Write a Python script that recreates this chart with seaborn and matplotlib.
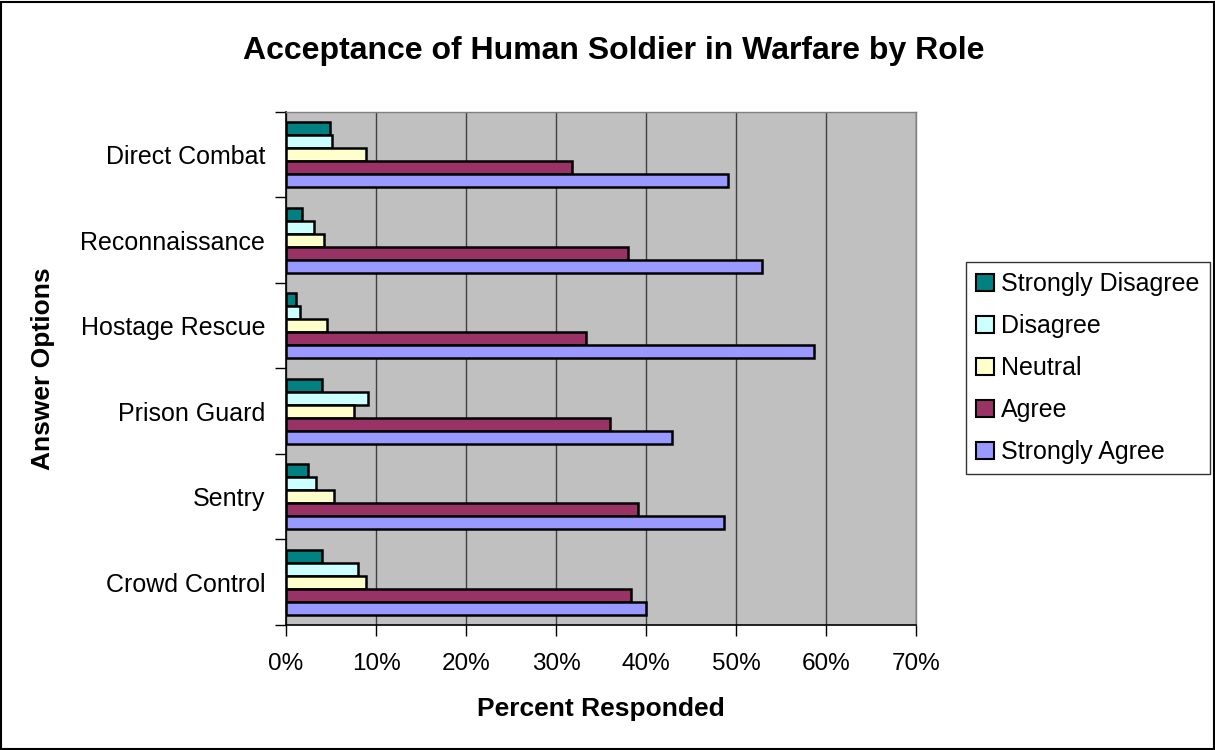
import matplotlib
matplotlib.use("Agg")
import matplotlib.pyplot as plt
from matplotlib.patches import Rectangle
from matplotlib.ticker import PercentFormatter, MultipleLocator, FixedLocator
import numpy as np
import pandas as pd
import seaborn as sns

roles = ["Direct Combat", "Reconnaissance", "Hostage Rescue",
         "Prison Guard", "Sentry", "Crowd Control"]
answers = ["Strongly Disagree", "Disagree", "Neutral", "Agree", "Strongly Agree"]

strongly_disagree = [4.9, 1.8, 1.1, 4.0, 2.4, 4.0]
disagree = [5.1, 3.1, 1.6, 9.1, 3.3, 8.0]
neutral = [8.9, 4.2, 4.5, 7.6, 5.3, 8.9]
agree = [31.8, 38.0, 33.3, 36.0, 39.1, 38.3]
strongly_agree = [49.1, 52.9, 58.7, 42.9, 48.7, 40.0]

colors = ["#008080", "#CCFFFF", "#FFFFCC", "#993366", "#9999FF"]

series = [strongly_disagree, disagree, neutral, agree, strongly_agree]
df = pd.DataFrame({
    "Role": np.tile(roles, len(answers)),
    "Answer": np.repeat(answers, len(roles)),
    "Percent": np.concatenate(series),
})

sns.set_theme(style="white")
plt.rcParams["font.family"] = ["Liberation Sans", "DejaVu Sans"]
plt.rcParams["text.color"] = "black"
plt.rcParams["axes.labelcolor"] = "black"
plt.rcParams["xtick.color"] = "black"
plt.rcParams["ytick.color"] = "black"

fig = plt.figure(figsize=(12.15, 7.5), dpi=100)
ax = fig.add_axes([0.2354, 0.1667, 0.7539 - 0.2354, 0.8507 - 0.1667])

sns.barplot(data=df, y="Role", x="Percent", hue="Answer",
            order=roles, hue_order=answers, palette=colors,
            orient="h", width=0.76, gap=0, edgecolor="black",
            linewidth=1.8, saturation=1, errorbar=None, ax=ax, zorder=3)

ax.set_facecolor("#C0C0C0")
ax.set_xlim(0, 70)
ax.set_ylim(len(roles) - 0.5, -0.5)
ax.xaxis.set_major_locator(MultipleLocator(10))
ax.xaxis.set_major_formatter(PercentFormatter(decimals=0))
ax.grid(axis="x", color="#404040", linewidth=1.0, zorder=0)
ax.set_axisbelow(True)

# category separators as outward y ticks; labels as minor ticks centred on groups
ax.yaxis.set_major_locator(FixedLocator(np.arange(-0.5, len(roles), 1.0)))
ax.yaxis.set_major_formatter(plt.NullFormatter())
ax.yaxis.set_minor_locator(FixedLocator(np.arange(len(roles))))
ax.set_yticklabels(roles, minor=True)
ax.tick_params(axis="y", which="major", direction="out", length=8, width=1, color="black", left=True)
ax.tick_params(axis="y", which="minor", length=0, pad=15, labelsize=18, labelcolor="black")
ax.tick_params(axis="x", direction="out", length=8, width=1, color="black",
               bottom=True, pad=12, labelsize=17.5, labelcolor="black")

for side in ["left", "bottom"]:
    ax.spines[side].set_color("black")
    ax.spines[side].set_linewidth(1.2)
for side in ["top", "right"]:
    ax.spines[side].set_color("#808080")
    ax.spines[side].set_linewidth(1.0)

ax.set_ylabel("Answer Options", fontsize=19, fontweight="bold", labelpad=18, color="black")
ax.set_xlabel("Percent Responded", fontsize=19, fontweight="bold", labelpad=16, color="black")

fig.suptitle("Acceptance of Human Soldier in Warfare by Role",
             x=0.505, y=0.952, fontsize=23, fontweight="bold", color="black")

handles, labels = ax.get_legend_handles_labels()
ax.legend(handles, labels, loc="center left", bbox_to_anchor=(1.08, 0.5),
          frameon=True, fancybox=False, edgecolor="black", fontsize=18,
          handlelength=0.7, handleheight=0.7, handletextpad=0.3,
          labelspacing=0.72, borderpad=0.4, borderaxespad=0, labelcolor="black")
leg = ax.get_legend()
leg.get_frame().set_linewidth(1.0)
for h in leg.legend_handles:
    h.set_edgecolor("black")
    h.set_linewidth(1.5)

fig.patches.append(Rectangle((0.001, 0.001), 0.998, 0.997, transform=fig.transFigure,
                             fill=False, edgecolor="black", linewidth=1.5))

fig.savefig("out.png", dpi=100, facecolor="white")
